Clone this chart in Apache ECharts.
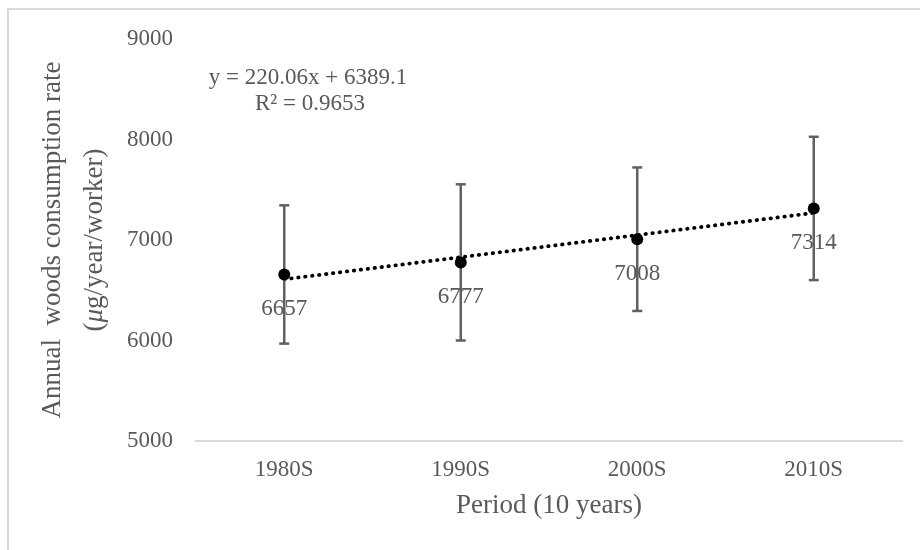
<!DOCTYPE html>
<html>
<head>
<meta charset="utf-8">
<script src="https://cdn.jsdelivr.net/npm/echarts@6/dist/echarts.min.js"></script>
<style>html,body{margin:0;padding:0;background:#fff;}#c{width:920px;height:550px;}</style>
</head>
<body>
<div id="c"></div>
<script>
var categories = ['1980S', '1990S', '2000S', '2010S'];
var means = [6657, 6777, 7008, 7314];
var errors = [688, 777, 714, 713];
var yTicks = [5000, 6000, 7000, 8000, 9000];
var trendSlope = 220.06;
var trendIntercept = 6389.1;
var equationText = 'y = 220.06x + 6389.1';
var r2Text = 'R² = 0.9653';

var FONT = '"Liberation Serif", "Times New Roman", serif';
var GRAY = '#595959';

var trendData = categories.map(function (c, i) { return [i, trendSlope * (i + 1) + trendIntercept]; });
var errData = categories.map(function (c, i) { return [i, means[i] - errors[i], means[i] + errors[i]]; });

var chart = echarts.init(document.getElementById('c'));
chart.setOption({
  animation: false,
  backgroundColor: '#fff',
  grid: { left: 196, right: 18, top: 39, bottom: 109 },
  xAxis: {
    type: 'category',
    data: categories,
    boundaryGap: true,
    axisLine: { lineStyle: { color: '#d9d9d9', width: 2 } },
    axisTick: { show: false },
    axisLabel: { color: GRAY, fontFamily: FONT, fontSize: 23, margin: 17 },
    name: 'Period (10 years)',
    nameLocation: 'middle',
    nameGap: 51,
    nameTextStyle: { color: GRAY, fontFamily: FONT, fontSize: 27 }
  },
  yAxis: {
    type: 'value',
    min: yTicks[0],
    max: yTicks[yTicks.length - 1],
    interval: yTicks[1] - yTicks[0],
    splitLine: { show: false },
    axisLine: { show: false },
    axisTick: { show: false },
    axisLabel: { color: GRAY, fontFamily: FONT, fontSize: 23, margin: 23,
      formatter: function (v) { return String(v); } },
    name: 'Annual  woods consumption rate\n({it|μ}g/year/worker)',
    nameLocation: 'middle',
    nameRotate: 90,
    nameGap: 63,
    nameTextStyle: {
      color: GRAY, fontFamily: FONT, fontSize: 27, lineHeight: 42, align: 'center',
      rich: { it: { fontStyle: 'italic', color: GRAY, fontFamily: FONT, fontSize: 27, lineHeight: 42 } }
    }
  },
  graphic: [
    { type: 'rect', silent: true, shape: { x: 8, y: 9, width: 1000, height: 1000 },
      style: { fill: 'none', stroke: '#d9d9d9', lineWidth: 2 } },
    { type: 'text', silent: true, x: 308, y: 78,
      style: { text: equationText, fill: GRAY, font: '23px ' + FONT, textAlign: 'center', textVerticalAlign: 'middle' } },
    { type: 'text', silent: true, x: 310, y: 104,
      style: { text: r2Text, fill: GRAY, font: '23px ' + FONT, textAlign: 'center', textVerticalAlign: 'middle' } }
  ],
  series: [
    {
      type: 'line',
      data: trendData,
      symbol: 'none',
      lineStyle: { color: '#000', width: 3.8, type: [0.5, 6.5], cap: 'round' },
      z: 2
    },
    {
      type: 'custom',
      data: errData,
      z: 3,
      renderItem: function (params, api) {
        var x = api.value(0);
        var lo = api.coord([x, api.value(1)]);
        var hi = api.coord([x, api.value(2)]);
        var hw = 5;
        var st = { stroke: '#606060', lineWidth: 2.5 };
        return {
          type: 'group',
          children: [
            { type: 'line', shape: { x1: lo[0], y1: lo[1], x2: hi[0], y2: hi[1] }, style: st },
            { type: 'line', shape: { x1: lo[0] - hw, y1: lo[1], x2: lo[0] + hw, y2: lo[1] }, style: st },
            { type: 'line', shape: { x1: hi[0] - hw, y1: hi[1], x2: hi[0] + hw, y2: hi[1] }, style: st }
          ]
        };
      }
    },
    {
      type: 'line',
      data: means,
      symbol: 'circle',
      symbolSize: 12,
      itemStyle: { color: '#000' },
      lineStyle: { width: 0, opacity: 0 },
      label: {
        show: true, position: 'bottom', distance: 17,
        color: GRAY, fontFamily: FONT, fontSize: 23
      },
      z: 4
    }
  ]
});
</script>
</body>
</html>
